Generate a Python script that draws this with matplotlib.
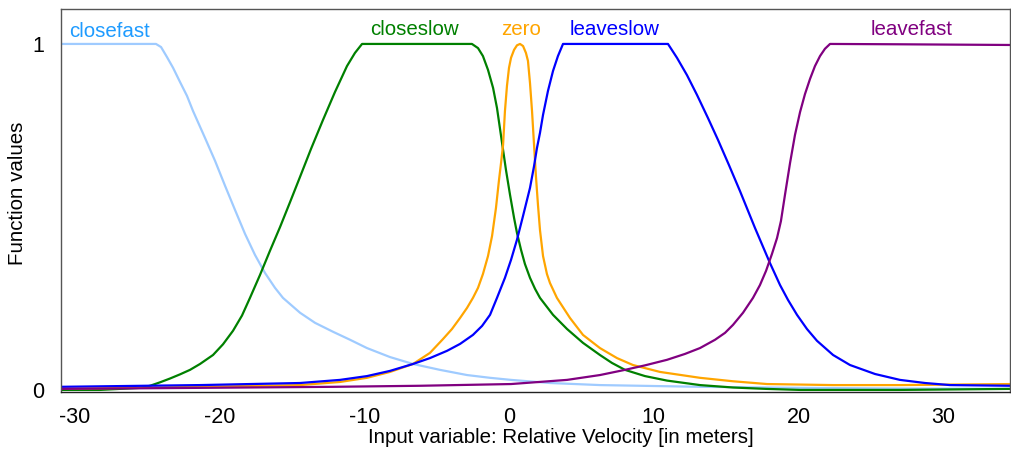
import matplotlib
matplotlib.use("Agg")
import matplotlib.pyplot as plt

plt.rcParams['font.family'] = ['Liberation Sans', 'DejaVu Sans']
plt.rcParams['axes.unicode_minus'] = False

# ---- data ----
closefast_x = [-30.94, -24.38, -24.03, -23.62, -23.20, -22.72, -22.24, -21.82, -20.99, -20.30, -19.61,
               -18.92, -18.23, -17.54, -16.85, -16.16, -15.61, -14.43, -13.40, -12.15, -10.98, -9.81,
               -8.22, -6.63, -4.77, -2.90, -1.31, 0.14, 2.83, 6.28, 13.19, 20.10, 27.00, 34.67]
closefast_y = [1.0, 1.0, 0.991, 0.962, 0.931, 0.890, 0.850, 0.806, 0.728, 0.662, 0.590,
               0.520, 0.451, 0.390, 0.338, 0.295, 0.266, 0.223, 0.194, 0.168, 0.145, 0.121,
               0.095, 0.075, 0.058, 0.043, 0.035, 0.029, 0.020, 0.014, 0.009, 0.006, 0.004, 0.003]

closeslow_x = [-30.94, -28.25, -25.48, -24.79, -24.10, -23.41, -22.72, -22.03, -21.34, -20.44, -19.75,
               -19.06, -18.44, -17.89, -17.20, -16.51, -15.81, -15.12, -14.43, -13.67, -12.85, -12.02,
               -11.19, -10.64, -10.15, -2.56, -2.14, -1.80, -1.45, -1.10, -0.83, -0.48, -0.21, 0.07,
               0.35, 0.55, 0.83, 1.10, 1.45, 1.80, 2.14, 3.04, 4.01, 5.11, 6.28, 7.11, 8.01, 9.39,
               10.91, 13.19, 15.47, 17.75, 20.10, 27.00, 34.67]
closeslow_y = [0.0, 0.0, 0.006, 0.012, 0.022, 0.033, 0.045, 0.058, 0.075, 0.101, 0.132,
               0.171, 0.215, 0.266, 0.332, 0.402, 0.471, 0.543, 0.616, 0.697, 0.780, 0.861,
               0.936, 0.974, 1.0, 1.0, 0.988, 0.965, 0.925, 0.873, 0.815, 0.714, 0.636, 0.564,
               0.497, 0.454, 0.405, 0.364, 0.324, 0.292, 0.266, 0.217, 0.176, 0.136, 0.101, 0.078,
               0.058, 0.040, 0.027, 0.014, 0.007, 0.003, 0.0, 0.0, 0.003]

zero_x = [-30.94, -21.34, -14.43, -11.67, -9.81, -8.22, -6.63, -5.46, -4.56, -3.94, -3.38, -2.90,
          -2.49, -2.14, -1.80, -1.45, -1.17, -0.90, -0.69, -0.55, -0.41, -0.28, -0.14, 0.0, 0.14,
          0.35, 0.55, 0.76, 0.97, 1.17, 1.31, 1.45, 1.59, 1.73, 1.86, 2.00, 2.14, 2.35, 2.62, 2.83,
          3.31, 4.21, 5.11, 6.28, 7.46, 8.56, 10.43, 13.19, 15.47, 17.82, 22.38, 27.00, 34.67]
zero_y = [0.003, 0.009, 0.014, 0.023, 0.035, 0.052, 0.075, 0.107, 0.147, 0.176, 0.208, 0.237,
          0.266, 0.295, 0.335, 0.387, 0.445, 0.526, 0.607, 0.656, 0.708, 0.806, 0.879, 0.931, 0.960,
          0.983, 0.996, 1.0, 0.994, 0.974, 0.951, 0.887, 0.806, 0.708, 0.618, 0.535, 0.462, 0.387,
          0.335, 0.309, 0.266, 0.208, 0.159, 0.121, 0.092, 0.072, 0.052, 0.035, 0.025, 0.017, 0.014,
          0.014, 0.017]

leaveslow_x = [-30.94, -21.34, -14.43, -11.67, -9.81, -8.22, -6.63, -5.46, -4.28, -3.38, -2.49,
               -1.86, -1.31, -0.83, -0.28, 0.14, 0.55, 0.97, 1.45, 1.73, 1.93, 2.14, 2.35, 2.69,
               3.04, 3.38, 3.73, 10.98, 11.60, 12.29, 12.98, 13.74, 14.43, 15.19, 15.95, 16.99,
               18.02, 18.72, 19.27, 19.89, 20.58, 21.27, 22.38, 23.55, 25.28, 27.00, 28.73, 30.46,
               34.67]
leaveslow_y = [0.009, 0.014, 0.020, 0.029, 0.040, 0.055, 0.075, 0.092, 0.113, 0.133, 0.159,
               0.185, 0.217, 0.266, 0.324, 0.376, 0.434, 0.503, 0.584, 0.647, 0.699, 0.743, 0.795,
               0.864, 0.922, 0.965, 1.0, 1.0, 0.960, 0.910, 0.853, 0.786, 0.723, 0.650, 0.575,
               0.468, 0.367, 0.303, 0.260, 0.217, 0.176, 0.142, 0.101, 0.072, 0.046, 0.029, 0.020,
               0.014, 0.012]

leavefast_x = [-30.94, -21.34, -12.15, -6.15, 0.14, 4.01, 6.28, 8.01, 9.39, 10.91, 12.15, 13.19,
               14.23, 14.92, 15.47, 16.16, 16.85, 17.33, 17.75, 18.16, 18.51, 18.78, 19.06, 19.41,
               19.75, 20.10, 20.44, 20.79, 21.13, 21.48, 21.82, 22.17, 27.00, 34.67]
leavefast_y = [0.003, 0.006, 0.009, 0.012, 0.017, 0.029, 0.043, 0.058, 0.071, 0.087, 0.104, 0.121,
               0.145, 0.165, 0.188, 0.223, 0.266, 0.303, 0.344, 0.393, 0.439, 0.488, 0.564, 0.656,
               0.737, 0.803, 0.855, 0.899, 0.936, 0.965, 0.986, 1.0, 0.999, 0.997]

names = ["closefast", "closeslow", "zero", "leaveslow", "leavefast"]
label_x = [-27.6, -6.5, 0.83, 7.3, 27.8]
label_y = [1.037, 1.041, 1.041, 1.041, 1.043]
xticks = [-30, -20, -10, 0, 10, 20, 30]
yticks = [0, 1]

# ---- styles ----
line_colors = ['#9fcbff', '#008000', '#ffa500', '#0000ff', '#800080']
text_colors = ['#1e9bff', '#008000', '#ffa500', '#0000ff', '#800080']

fig = plt.figure(figsize=(10.11, 4.5), dpi=100)
ax = fig.add_axes([61/1011, 58/450, 949/1011, 383/450])

series = [(closefast_x, closefast_y), (closeslow_x, closeslow_y), (zero_x, zero_y),
          (leaveslow_x, leaveslow_y), (leavefast_x, leavefast_y)]
for (xs, ys), c in zip(series, line_colors):
    ax.plot(xs, ys, color=c, lw=1.6, solid_joinstyle='round', solid_capstyle='round')

for n, lx, ly, tc in zip(names, label_x, label_y, text_colors):
    ax.text(lx, ly, n, color=tc, fontsize=14.8, ha='center', va='center')

ax.set_xlim(-30.94, 34.6)
ax.set_ylim(-0.006, 1.101)
ax.set_xticks(xticks)
ax.set_yticks(yticks)
ax.tick_params(axis='both', length=0, labelsize=15.5)
ax.tick_params(axis='y', pad=12)
ax.tick_params(axis='x', pad=11)
ax.set_xlabel("Input variable: Relative Velocity [in meters]", fontsize=14.8)
ax.set_ylabel("Function values", fontsize=14.8)
ax.xaxis.set_label_coords(0.527, -0.095)
ax.yaxis.set_label_coords(-0.036, 0.52)
for s in ax.spines.values():
    s.set_color('#555555')
    s.set_linewidth(1.0)
ax.spines['bottom'].set_color('#222222')

fig.savefig("out.png", dpi=100)
